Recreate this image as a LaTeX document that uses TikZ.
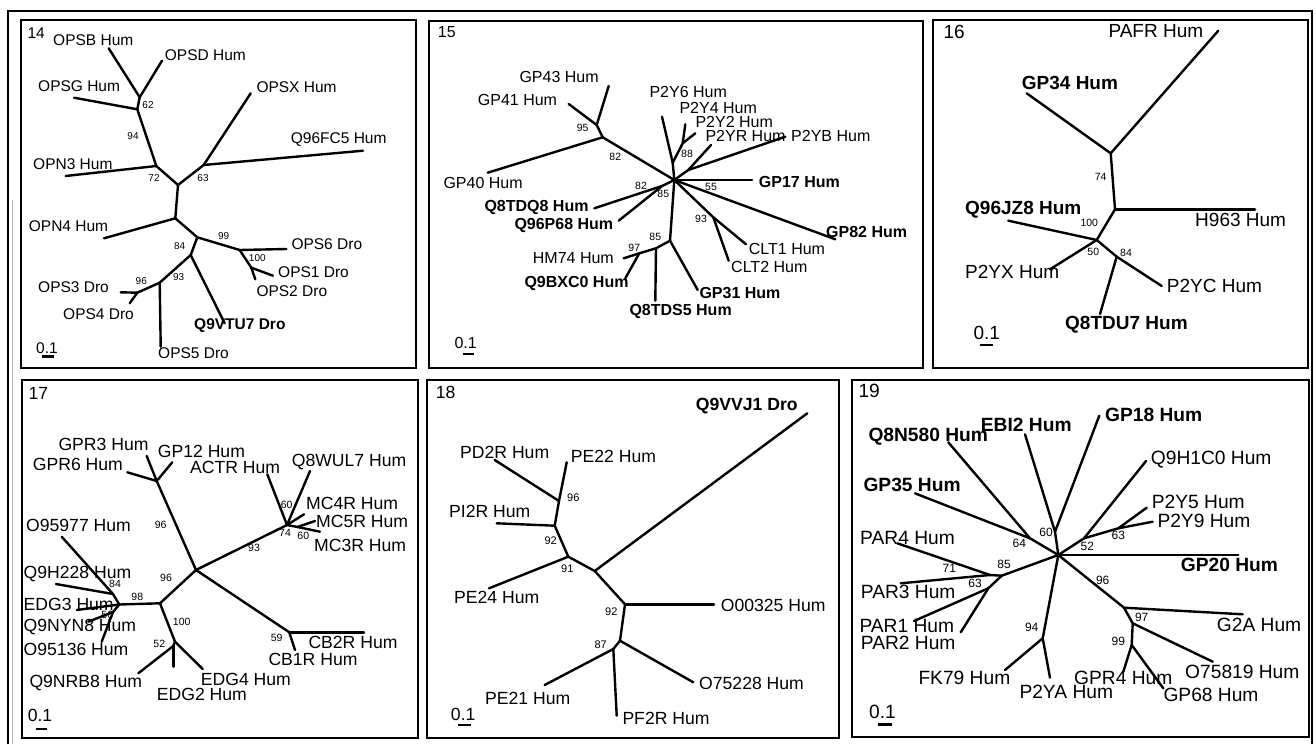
\documentclass[tikz,border=0pt]{standalone}
\usepackage{fontspec}
\setmainfont{Liberation Sans}
\begin{document}
\begin{tikzpicture}[x=1pt,y=-1pt,
  br/.style={line width=2.4pt, line cap=round, line join=round},
  panel/.style={line width=2.2pt},
  lab/.style={anchor=west, inner sep=0pt, font=\fontsize{\labsize}{20}\selectfont},
  blab/.style={anchor=west, inner sep=0pt, font=\fontsize{\labsize}{20}\selectfont\bfseries},
  bs/.style={inner sep=0pt, font=\fontsize{\bssize}{12}\selectfont},
  sbar/.style={line width=2.8pt},
]
\useasboundingbox (0,0) rectangle (1316,744);
\fill[white] (0,0) rectangle (1316,744);

% outer frame
\coordinate (o1) at (8,744); \coordinate (o2) at (8,11);
\coordinate (o3) at (1312,11); \coordinate (o4) at (1312,744);
\draw[line width=1.6pt] (o1) -- (o2) -- (o3) -- (o4);
\coordinate (g1) at (12.5,200); \coordinate (g2) at (12.5,744);
\draw[line width=1.4pt, gray!60] (g1) -- (g2);

% ---------------- tree 14 ----------------
\begin{scope}
\def\labsize{15.5}\def\bssize{10}
\draw[panel] (21,20) rectangle (416,368);
\node[lab] (a14) at (27.3,33.3) {14};
\coordinate (a62) at (139.7,97.3);
\coordinate (a94) at (137.3,109.3);
\coordinate (a72) at (156.3,166);
\coordinate (aR) at (178,185);
\coordinate (a63) at (203.7,165);
\coordinate (aM) at (175.3,218.3);
\coordinate (a84) at (197.3,237.3);
\coordinate (a99) at (239.7,250);
\coordinate (a100) at (251.3,267.7);
\coordinate (a93) at (190.7,255);
\coordinate (a96) at (159.7,282.7);
\coordinate (a96b) at (137.3,292.7);
\coordinate (aOPSB) at (108.7,48.3);
\coordinate (aOPSD) at (162,60.7);
\coordinate (aOPSG) at (74,97.7);
\coordinate (aOPSX) at (250.7,93.3);
\coordinate (aQ96) at (363,150.7);
\coordinate (aOPN3) at (65.7,176);
\coordinate (aOPN4) at (104,238.3);
\coordinate (aOPS6) at (286.3,249);
\coordinate (aOPS1) at (273,275.7);
\coordinate (aOPS2) at (255.3,279.3);
\coordinate (aOPS3) at (120.7,292.3);
\coordinate (aOPS4) at (129.7,303.3);
\coordinate (aOPS5) at (160.7,346.7);
\coordinate (aQ9V) at (224.7,323.3);
\foreach \u/\v in {a62/aOPSB,a62/aOPSD,a62/a94,a94/aOPSG,a94/a72,a72/aOPN3,a72/aR,
  aR/a63,a63/aOPSX,a63/aQ96,aR/aM,aM/aOPN4,aM/a84,a84/a99,a99/aOPS6,a99/a100,
  a100/aOPS1,a100/aOPS2,a84/a93,a93/aQ9V,a93/a96,a96/aOPS5,a96/a96b,a96b/aOPS3,a96b/aOPS4}
  \draw[br] (\u) -- (\v);
\node[lab] (aLOPSB) at (53,40) {OPSB Hum};
\node[lab] (aLOPSD) at (164.7,55) {OPSD Hum};
\node[lab] (aLOPSG) at (38,86) {OPSG Hum};
\node[lab] (aLOPSX) at (256.3,87) {OPSX Hum};
\node[lab] (aLQ96) at (290.7,139.5) {Q96FC5 Hum};
\node[lab] (aLOPN3) at (33,164) {OPN3 Hum};
\node[lab] (aLOPN4) at (28.7,226) {OPN4 Hum};
\node[lab] (aLOPS6) at (291.3,244) {OPS6 Dro};
\node[lab] (aLOPS1) at (278,271.7) {OPS1 Dro};
\node[lab] (aLOPS2) at (256.3,290.8) {OPS2 Dro};
\node[lab] (aLOPS3) at (38,287) {OPS3 Dro};
\node[lab] (aLOPS4) at (63,314) {OPS4 Dro};
\node[lab] (aLOPS5) at (158,353) {OPS5 Dro};
\node[blab] (aLQ9V) at (194,326) {Q9VTU7 Dro};
\node[bs] (ab62) at (148,105) {62};
\node[bs] (ab94) at (133,136) {94};
\node[bs] (ab72) at (154,177.7) {72};
\node[bs] (ab63) at (203,177.7) {63};
\node[bs] (ab99) at (223.7,235.7) {99};
\node[bs] (ab84) at (179.7,245.7) {84};
\node[bs] (ab100) at (257.3,258.3) {100};
\node[bs] (ab93) at (178.7,277.3) {93};
\node[bs] (ab96) at (141.3,280.7) {96};
\node[lab, anchor=center] (aS) at (47,348) {0.1};
\coordinate (aS1) at (42,356.7); \coordinate (aS2) at (54,356.7);
\draw[sbar] (aS1) -- (aS2);
\end{scope}

% ---------------- tree 15 ----------------
\begin{scope}
\def\labsize{16}\def\bssize{10.5}
\draw[panel] (429,21) rectangle (923,368);
\node[lab] (b15) at (437.7,31.7) {15};
\coordinate (bC) at (674.3,180);
\coordinate (b82) at (602.7,137.3);
\coordinate (b95) at (596.7,125);
\coordinate (bGP43) at (608.7,86);
\coordinate (bGP41) at (568.7,104);
\coordinate (bGP40) at (487.7,172.7);
\coordinate (bY6) at (662,116.7);
\coordinate (b88a) at (672.7,162.7);
\coordinate (b88) at (682.7,143.3);
\coordinate (bY4) at (685.3,124.3);
\coordinate (bY2) at (695.3,133.3);
\coordinate (bYR) at (711,145);
\coordinate (bYB) at (785.3,136.7);
\coordinate (bRB) at (688.3,170);
\coordinate (bGP17) at (752,180);
\coordinate (bGP82) at (835.3,239.3);
\coordinate (b93) at (713.3,217.3);
\coordinate (bCLT1) at (746,244.3);
\coordinate (bCLT2) at (728.7,260.7);
\coordinate (bQ) at (662,186);
\coordinate (bQ8TDQ8) at (594.3,208.3);
\coordinate (bQ96P) at (618.7,220.7);
\coordinate (b85) at (670,240.7);
\coordinate (bGP31) at (697.7,290);
\coordinate (b97) at (656,248.3);
\coordinate (bQ8TDS5) at (655.3,300.7);
\coordinate (b97b) at (639.3,253.3);
\coordinate (bHM74) at (623.7,258.3);
\coordinate (bQ9B) at (625.3,278.3);
\foreach \u/\v in {bC/b82,b82/b95,b95/bGP43,b95/bGP41,b82/bGP40,bC/b88a,b88a/bY6,b88a/b88,
  b88/bY4,b88/bY2,bC/bRB,bRB/bYR,bRB/bYB,bC/bGP17,bC/bGP82,bC/b93,b93/bCLT1,b93/bCLT2,
  bC/bQ,bQ/bQ8TDQ8,bQ/bQ96P,bC/b85,b85/bGP31,b85/b97,b97/bQ8TDS5,b97/b97b,b97b/bHM74,b97b/bQ9B}
  \draw[br] (\u) -- (\v);
\node[lab] (bLGP43) at (519.3,77) {GP43 Hum};
\node[lab] (bLGP41) at (477.7,100) {GP41 Hum};
\node[lab] (bLGP40) at (443.3,182.7) {GP40 Hum};
\node[lab] (bLY6) at (649.3,92) {P2Y6 Hum};
\node[lab] (bLY4) at (679.3,108) {P2Y4 Hum};
\node[lab] (bLY2) at (695.3,122) {P2Y2 Hum};
\node[lab] (bLYR) at (705.3,136) {P2YR Hum};
\node[lab] (bLYB) at (791,136) {P2YB Hum};
\node[blab] (bLGP17) at (758.7,181.7) {GP17 Hum};
\node[blab] (bLGP82) at (826,231.7) {GP82 Hum};
\node[lab] (bLCLT1) at (748.7,249) {CLT1 Hum};
\node[lab] (bLCLT2) at (731,267) {CLT2 Hum};
\node[blab] (bLQ8TDQ8) at (484.3,207) {Q8TDQ8 Hum};
\node[blab] (bLQ96P) at (514.3,225) {Q96P68 Hum};
\node[lab] (bLHM74) at (532.7,257.8) {HM74 Hum};
\node[blab] (bLQ9B) at (524.3,283) {Q9BXC0 Hum};
\node[blab] (bLGP31) at (699.3,292.7) {GP31 Hum};
\node[blab] (bLQ8TDS5) at (629.3,311.7) {Q8TDS5 Hum};
\node[bs] (bb95) at (582.7,128.3) {95};
\node[bs] (bb82a) at (615.3,157.3) {82};
\node[bs] (bb88) at (687,154.3) {88};
\node[bs] (bb55) at (711,187.3) {55};
\node[bs] (bb82b) at (641,186) {82};
\node[bs] (bb85a) at (663.3,194) {85};
\node[bs] (bb93) at (701,219.3) {93};
\node[bs] (bb85b) at (655.3,236.7) {85};
\node[bs] (bb97) at (634.3,248.3) {97};
\node[lab, anchor=center] (bS) at (465.7,343.3) {0.1};
\coordinate (bS1) at (462.7,354); \coordinate (bS2) at (473.7,354);
\draw[sbar] (bS1) -- (bS2);
\end{scope}

% ---------------- tree 16 ----------------
\begin{scope}
\def\labsize{19}\def\bssize{10.5}
\draw[panel] (933,20) rectangle (1308,368);
\node[lab] (c16) at (943.3,31.7) {16};
\coordinate (cT) at (1110.7,153.3);
\coordinate (cPAFR) at (1218.3,30.7);
\coordinate (cGP34) at (1026.7,93.3);
\coordinate (cM) at (1115,209.3);
\coordinate (cH963) at (1255,209.3);
\coordinate (c100) at (1096.7,240);
\coordinate (cQ96) at (1008.3,220.7);
\coordinate (cP2YX) at (1050,269.3);
\coordinate (c84) at (1116.7,256.7);
\coordinate (cP2YC) at (1161.7,286);
\coordinate (cQ8T) at (1100,314);
\foreach \u/\v in {cT/cPAFR,cT/cGP34,cT/cM,cM/cH963,cM/c100,c100/cQ96,c100/cP2YX,
  c100/c84,c84/cP2YC,c84/cQ8T}
  \draw[br] (\u) -- (\v);
\node[lab] (cLPAFR) at (1108.3,30.8) {PAFR Hum};
\node[blab] (cLGP34) at (1021.7,83) {GP34 Hum};
\node[lab] (cLH963) at (1195,220) {H963 Hum};
\node[blab] (cLQ96) at (965,210) {Q96JZ8 Hum};
\node[lab] (cLP2YX) at (965,271.7) {P2YX Hum};
\node[lab] (cLP2YC) at (1166.7,286.3) {P2YC Hum};
\node[blab] (cLQ8T) at (1065,324.3) {Q8TDU7 Hum};
\node[bs] (cb74) at (1100.7,177.3) {74};
\node[bs] (cb100) at (1089.3,222.7) {100};
\node[bs] (cb50) at (1093.3,251.7) {50};
\node[bs] (cb84) at (1126,253.3) {84};
\node[lab, anchor=center] (cS) at (986.7,332.5) {0.1};
\coordinate (cS1) at (980,345); \coordinate (cS2) at (993.3,345);
\draw[sbar] (cS1) -- (cS2);
\end{scope}

% ---------------- tree 17 ----------------
\begin{scope}
\def\labsize{17.6}\def\bssize{10.5}
\draw[panel] (22,380) rectangle (418,738);
\node[lab] (d17) at (28.3,393) {17};
\coordinate (dH) at (196,570);
\coordinate (d96a) at (156.7,481);
\coordinate (dGPR3) at (146.7,456);
\coordinate (dGP12) at (172.3,462.3);
\coordinate (dGPR6) at (127.3,472.3);
\coordinate (d74) at (287,525);
\coordinate (dACTR) at (267.3,474.3);
\coordinate (dQ8W) at (310,471);
\coordinate (dMC4R) at (304,514.3);
\coordinate (d60) at (297.5,527);
\coordinate (dMC5R) at (315,521);
\coordinate (dMC3R) at (320,531.7);
\coordinate (d59) at (289.3,632.3);
\coordinate (dCB2R) at (364,632.3);
\coordinate (dCB1R) at (295,650);
\coordinate (d96b) at (160,603.3);
\coordinate (d98) at (119.3,604.5);
\coordinate (d84) at (113,594);
\coordinate (dO959) at (61.7,536.7);
\coordinate (dQ9H) at (56,584);
\coordinate (dEDG3) at (76.7,610);
\coordinate (d56) at (113,612);
\coordinate (dQ9NY) at (88.3,621.7);
\coordinate (dO951) at (101.7,641.7);
\coordinate (d100) at (175,641.7);
\coordinate (d52) at (173.3,646);
\coordinate (dEDG4) at (202.7,669);
\coordinate (dEDG2) at (173.3,666.7);
\coordinate (dQ9NR) at (138.3,673.3);
\foreach \u/\v in {dH/d96a,d96a/dGPR3,d96a/dGP12,d96a/dGPR6,dH/d74,d74/dACTR,d74/dQ8W,
  d74/dMC4R,d74/d60,d60/dMC5R,d60/dMC3R,dH/d59,d59/dCB2R,d59/dCB1R,dH/d96b,d96b/d98,
  d98/d84,d84/dO959,d84/dQ9H,d98/dEDG3,d98/d56,d56/dQ9NY,d56/dO951,d96b/d100,d100/dEDG4,
  d100/d52,d52/dEDG2,d52/dQ9NR}
  \draw[br] (\u) -- (\v);
\node[lab] (dLGPR3) at (58.3,444) {GPR3 Hum};
\node[lab] (dLGP12) at (157.7,451) {GP12 Hum};
\node[lab] (dLGPR6) at (32.7,464) {GPR6 Hum};
\node[lab] (dLACTR) at (190,467) {ACTR Hum};
\node[lab] (dLQ8W) at (291.7,462) {Q8WUL7 Hum};
\node[lab] (dLMC4R) at (306,503.3) {MC4R Hum};
\node[lab] (dLMC5R) at (316,521.3) {MC5R Hum};
\node[lab] (dLMC3R) at (314,545) {MC3R Hum};
\node[lab] (dLO959) at (26,525.3) {O95977 Hum};
\node[lab] (dLQ9H) at (23.5,574) {Q9H228 Hum};
\node[lab] (dLEDG3) at (23.5,604) {EDG3 Hum};
\node[lab] (dLQ9NY) at (23.5,627) {Q9NYN8 Hum};
\node[lab] (dLO951) at (23.5,649) {O95136 Hum};
\node[lab] (dLCB2R) at (308.3,642.8) {CB2R Hum};
\node[lab] (dLCB1R) at (268.3,659.5) {CB1R Hum};
\node[lab] (dLEDG4) at (200.7,679.5) {EDG4 Hum};
\node[lab] (dLEDG2) at (156.7,694) {EDG2 Hum};
\node[lab] (dLQ9NR) at (29.3,683.5) {Q9NRB8 Hum};
\node[bs] (db96a) at (160.7,525) {96};
\node[bs] (db93) at (254,548.3) {93};
\node[bs] (db60a) at (286.7,505) {60};
\node[bs] (db74) at (285,533.3) {74};
\node[bs] (db60b) at (303.3,535.7) {60};
\node[bs] (db59) at (276.7,637.7) {59};
\node[bs] (db96b) at (166,578.3) {96};
\node[bs] (db98) at (137.3,596.7) {98};
\node[bs] (db84) at (115,584) {84};
\node[bs] (db56) at (107.3,615) {56};
\node[bs] (db100) at (181.7,621.7) {100};
\node[bs] (db52) at (159.3,644.3) {52};
\node[lab, anchor=center] (dS) at (40,715.8) {0.1};
\coordinate (dS1) at (36,729); \coordinate (dS2) at (47.3,729);
\draw[sbar] (dS1) -- (dS2);
\end{scope}

% ---------------- tree 18 ----------------
\begin{scope}
\def\labsize{17.6}\def\bssize{11}
\draw[panel] (427,380) rectangle (839,738);
\node[lab] (e18) at (435.7,392) {18};
\coordinate (eC) at (594.7,571);
\coordinate (eQ9V) at (807.3,413.3);
\coordinate (e91) at (568.3,556.7);
\coordinate (ePE24) at (489,588.3);
\coordinate (e92a) at (554.7,525.7);
\coordinate (ePI2R) at (496.7,523.3);
\coordinate (e96) at (559,501);
\coordinate (ePD2R) at (494.7,460);
\coordinate (ePE22) at (566.7,462.3);
\coordinate (e92b) at (625,604.3);
\coordinate (eO003) at (714,604.3);
\coordinate (e87a) at (620,640.7);
\coordinate (eO752) at (693.3,682.3);
\coordinate (e87b) at (613.3,649);
\coordinate (ePE21) at (544.7,685);
\coordinate (ePF2R) at (616.7,715.7);
\foreach \u/\v in {eC/eQ9V,eC/e91,e91/ePE24,e91/e92a,e92a/ePI2R,e92a/e96,e96/ePD2R,
  e96/ePE22,eC/e92b,e92b/eO003,e92b/e87a,e87a/eO752,e87a/e87b,e87b/ePE21,e87b/ePF2R}
  \draw[br] (\u) -- (\v);
\node[blab] (eLQ9V) at (695.7,405.8) {Q9VVJ1 Dro};
\node[lab] (eLPD2R) at (460,452.8) {PD2R Hum};
\node[lab] (eLPE22) at (570.7,456) {PE22 Hum};
\node[lab] (eLPI2R) at (449,511) {PI2R Hum};
\node[lab] (eLPE24) at (454,597) {PE24 Hum};
\node[lab] (eLO003) at (720.7,605) {O00325 Hum};
\node[lab] (eLO752) at (699,683.3) {O75228 Hum};
\node[lab] (eLPE21) at (485,698) {PE21 Hum};
\node[lab] (eLPF2R) at (622.3,718) {PF2R Hum};
\node[bs] (eb96) at (573.3,497.7) {96};
\node[bs] (eb92a) at (550.7,541) {92};
\node[bs] (eb91) at (567.3,569) {91};
\node[bs] (eb92b) at (611.3,611.7) {92};
\node[bs] (eb87) at (600.7,644.3) {87};
\node[lab, anchor=center] (eS) at (463.2,714) {0.1};
\coordinate (eS1) at (458.3,725); \coordinate (eS2) at (470.7,725);
\draw[sbar] (eS1) -- (eS2);
\end{scope}

% ---------------- tree 19 ----------------
\begin{scope}
\def\labsize{19.2}\def\bssize{12}
\draw[panel] (852,380) rectangle (1309,737);
\node[lab] (f19) at (858.3,390.8) {19};
\coordinate (fH) at (1058.3,555);
\coordinate (f60) at (1055,531.7);
\coordinate (fGP18) at (1099.3,415.7);
\coordinate (fEBI2) at (1025,434.3);
\coordinate (f64) at (1030,538.3);
\coordinate (fQ8N) at (948.3,442.3);
\coordinate (fGP35) at (915,493.3);
\coordinate (f85) at (1001.7,575.7);
\coordinate (f71) at (990,575);
\coordinate (fPAR4) at (897.3,543.3);
\coordinate (fPAR3) at (900.7,583.3);
\coordinate (f63) at (988.3,588.3);
\coordinate (fPAR1) at (914,621);
\coordinate (fPAR2) at (960.7,632.3);
\coordinate (f52) at (1084,538.3);
\coordinate (fQ9H1) at (1146,461);
\coordinate (f63b) at (1118.3,528.3);
\coordinate (fP2Y5) at (1146.7,507.7);
\coordinate (fP2Y9) at (1152.7,521.7);
\coordinate (fGP20) at (1238.3,555);
\coordinate (f96) at (1124,607.7);
\coordinate (fG2A) at (1242.7,614.3);
\coordinate (f97) at (1132.7,623.3);
\coordinate (fO758) at (1212.7,661.7);
\coordinate (f99) at (1131.7,645);
\coordinate (fGPR4) at (1123.3,671.7);
\coordinate (fGP68) at (1163.3,688.3);
\coordinate (f94) at (1042.7,638.3);
\coordinate (fFK79) at (1005,670);
\coordinate (fP2YA) at (1050,677.7);
\foreach \u/\v in {fH/f60,f60/fGP18,f60/fEBI2,fH/f64,f64/fQ8N,f64/fGP35,fH/f85,f85/f71,
  f71/fPAR4,f71/fPAR3,f85/f63,f63/fPAR1,f63/fPAR2,fH/f52,f52/fQ9H1,f52/f63b,f63b/fP2Y5,
  f63b/fP2Y9,fH/fGP20,fH/f96,f96/fG2A,f96/f97,f97/fO758,f97/f99,f99/fGPR4,f99/fGP68,
  fH/f94,f94/fFK79,f94/fP2YA}
  \draw[br] (\u) -- (\v);
\node[blab] (fLGP18) at (1105,414.5) {GP18 Hum};
\node[blab] (fLEBI2) at (980.7,425) {EBI2 Hum};
\node[blab] (fLQ8N) at (868.3,436.7) {Q8N580 Hum};
\node[blab] (fLGP35) at (863.3,485) {GP35 Hum};
\node[lab] (fLPAR4) at (860,537.5) {PAR4 Hum};
\node[lab] (fLPAR3) at (860.7,591.7) {PAR3 Hum};
\node[lab] (fLPAR1) at (859.3,626.2) {PAR1 Hum};
\node[lab] (fLPAR2) at (860.7,642.8) {PAR2 Hum};
\node[lab] (fLQ9H1) at (1150.7,460) {Q9H1C0 Hum};
\node[lab] (fLP2Y5) at (1151.7,502) {P2Y5 Hum};
\node[lab] (fLP2Y9) at (1157.3,521.3) {P2Y9 Hum};
\node[blab] (fLGP20) at (1180.7,565.3) {GP20 Hum};
\node[lab] (fLG2A) at (1216.7,625.3) {G2A Hum};
\node[lab] (fLO758) at (1185,671.7) {O75819 Hum};
\node[lab] (fLGPR4) at (1074,678.3) {GPR4 Hum};
\node[lab] (fLGP68) at (1163.3,695) {GP68 Hum};
\node[lab] (fLFK79) at (918.3,678.3) {FK79 Hum};
\node[lab] (fLP2YA) at (1019.3,692) {P2YA Hum};
\node[bs] (fb60) at (1046,532.3) {60};
\node[bs] (fb64) at (1019.3,543.3) {64};
\node[bs] (fb85) at (1004,564.3) {85};
\node[bs] (fb71) at (949.3,568.3) {71};
\node[bs] (fb63a) at (975,583.3) {63};
\node[bs] (fb52) at (1087.3,546.7) {52};
\node[bs] (fb63b) at (1118.3,535) {63};
\node[bs] (fb96) at (1102.7,580) {96};
\node[bs] (fb97) at (1141.7,617.7) {97};
\node[bs] (fb99) at (1118.3,641) {99};
\node[bs] (fb94) at (1031.7,627.7) {94};
\node[lab, anchor=center] (fS) at (882.5,711.7) {0.1};
\coordinate (fS1) at (878.3,724.3); \coordinate (fS2) at (891.7,724.3);
\draw[sbar] (fS1) -- (fS2);
\end{scope}
\end{tikzpicture}
\end{document}
